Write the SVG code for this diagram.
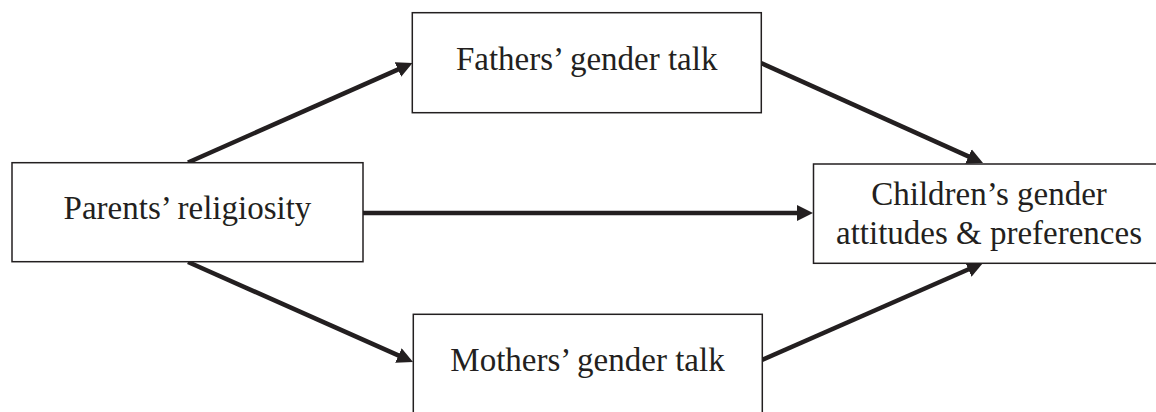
<svg xmlns="http://www.w3.org/2000/svg" width="1156" height="412" viewBox="0 0 1156 412">
<style>
.box{fill:#fff;stroke:#231f20;stroke-width:1.5}
.lbl{font-family:"Liberation Serif","Times New Roman",serif;font-size:33px;fill:#231f20;text-anchor:middle}
.edge{stroke:#231f20;stroke-width:4.5;fill:none;marker-end:url(#ah)}
</style>
<defs>
<marker id="ah" markerUnits="userSpaceOnUse" markerWidth="16" markerHeight="16" viewBox="0 0 16 16" refX="6" refY="8" orient="auto">
<path d="M0,0 L16,8 L0,16 Z" fill="#231f20"/>
</marker>
</defs>
<rect width="1156" height="412" fill="#fff"/>
<g id="connectors">
<line class="edge" x1="188" y1="162.5" x2="403.4" y2="67.1"/>
<line class="edge" x1="363" y1="213" x2="803" y2="213"/>
<line class="edge" x1="761" y1="63" x2="973.9" y2="158.9"/>
<line class="edge" x1="188" y1="262" x2="403.9" y2="357.9"/>
<line class="edge" x1="762" y1="360" x2="973.8" y2="267"/>
</g>
<g id="parents">
<rect class="box" x="12" y="162.7" width="351" height="99"/>
<text class="lbl" x="187.5" y="219">Parents’ religiosity</text>
</g>
<g id="fathers">
<rect class="box" x="412.3" y="12.7" width="349" height="100"/>
<text class="lbl" x="586.7" y="70">Fathers’ gender talk</text>
</g>
<g id="mothers">
<rect class="box" x="413.3" y="314.3" width="349" height="100"/>
<text class="lbl" x="587.5" y="371.3">Mothers’ gender talk</text>
</g>
<g id="children">
<rect class="box" x="813.5" y="164" width="350" height="99.3"/>
<text class="lbl" x="989" y="205">Children’s gender</text>
<text class="lbl" x="989" y="244.3">attitudes &amp; preferences</text>
</g>
</svg>
